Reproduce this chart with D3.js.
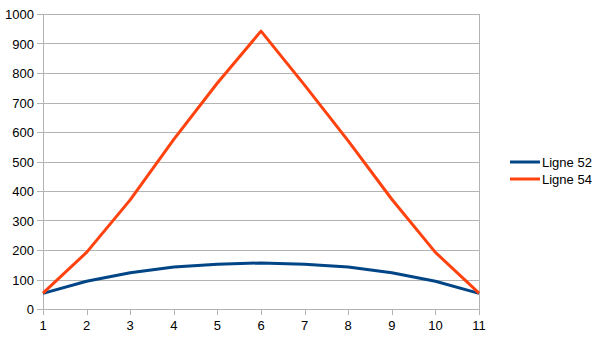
<!DOCTYPE html>
<html><head><meta charset="utf-8">
<script src="https://cdn.jsdelivr.net/npm/d3@7"></script>
<style>body{margin:0;background:#fff}svg{display:block}text{font-family:"Liberation Sans",Arial,sans-serif;font-size:13px;fill:#000}</style>
</head><body><svg id="c" width="605" height="340"></svg>
<script>
const categories = [1,2,3,4,5,6,7,8,9,10,11];
const ligne52 = [53,94,123,142,152,156,152,142,123,94,53];
const ligne54 = [54,192,370,575,766,942,759,570,372,192,54];
const yTicks = [0,100,200,300,400,500,600,700,800,900,1000];
const seriesNames = ["Ligne 52","Ligne 54"];
const colors = ["#004586","#ff420e"];

const svg = d3.select("#c");
const x = d3.scaleLinear().domain([1,11]).range([43,479]);
const y = d3.scaleLinear().domain([0,1000]).range([309,14]);

// gridlines
svg.append("g").selectAll("line").data(yTicks).join("line")
  .attr("x1",x(1)).attr("x2",x(11)).attr("y1",d=>Math.round(y(d))+0.5).attr("y2",d=>Math.round(y(d))+0.5)
  .attr("stroke","#b3b3b3").attr("stroke-width",1);
// vertical axis lines
svg.append("line").attr("x1",x(1)+0.5).attr("x2",x(1)+0.5).attr("y1",y(1000)).attr("y2",y(0)+6).attr("stroke","#b3b3b3");
svg.append("line").attr("x1",x(11)+0.5).attr("x2",x(11)+0.5).attr("y1",y(1000)).attr("y2",y(0)+6).attr("stroke","#b3b3b3");
// y ticks
svg.append("g").selectAll("line").data(yTicks).join("line")
  .attr("x1",x(1)-6).attr("x2",x(1)).attr("y1",d=>Math.round(y(d))+0.5).attr("y2",d=>Math.round(y(d))+0.5)
  .attr("stroke","#b3b3b3");
svg.append("g").selectAll("text").data(yTicks).join("text")
  .attr("x",x(1)-9).attr("y",d=>y(d)+5).attr("text-anchor","end").text(d=>d);
// x ticks
svg.append("g").selectAll("line").data(categories).join("line")
  .attr("x1",d=>Math.round(x(d))+0.5).attr("x2",d=>Math.round(x(d))+0.5).attr("y1",y(0)).attr("y2",y(0)+6)
  .attr("stroke","#b3b3b3");
svg.append("g").selectAll("text").data(categories).join("text")
  .attr("x",d=>x(d)).attr("y",330).attr("text-anchor","middle").text(d=>d);

const line = d3.line().x((d,i)=>x(categories[i])).y(d=>y(d));
[ligne52, ligne54].forEach((s,i)=>{
  svg.append("path").datum(s).attr("d",line).attr("fill","none")
    .attr("stroke",colors[i]).attr("stroke-width",3).attr("stroke-linejoin","round");
});

// legend
const lg = svg.append("g");
seriesNames.forEach((n,i)=>{
  const ly = 162 + i*17;
  lg.append("line").attr("x1",510).attr("x2",540).attr("y1",ly).attr("y2",ly).attr("stroke",colors[i]).attr("stroke-width",3);
  lg.append("text").attr("x",542).attr("y",ly+5).text(n);
});
</script></body></html>
